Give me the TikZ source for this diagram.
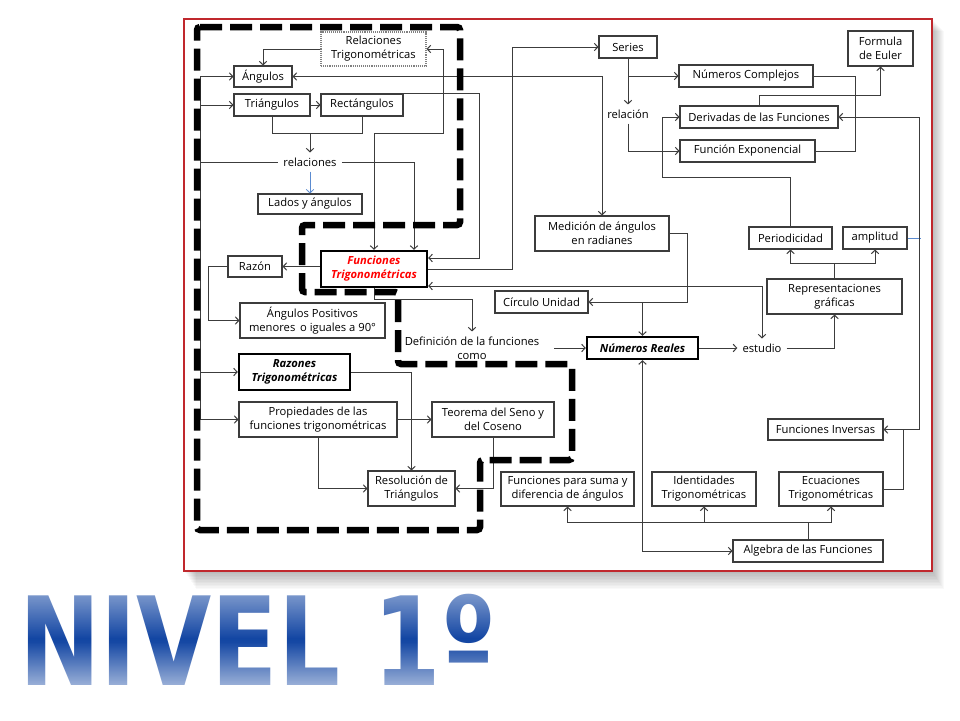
\documentclass[tikz,border=0pt]{standalone}
\usepackage{fontspec}
\setmainfont{Open Sans}
\newfontfamily\nivelfont{DejaVu Sans}
\usepackage{tikz}
\usepackage{xcolor}
\usetikzlibrary{arrows.meta,calc,fadings}
\definecolor{gris}{HTML}{3C3C3C}
\definecolor{marco}{HTML}{C0282D}
\definecolor{azul}{HTML}{5B8BD0}
\definecolor{nivelOsc}{HTML}{0A3FA0}

\begin{document}
\begin{tikzpicture}[x=1pt, y=-1pt,
    caja/.style={draw=gris, line width=1.1pt, fill=white, align=center, inner sep=1pt, font=\fontsize{11.2}{14}\selectfont},
    cajagruesa/.style={caja, draw=black, line width=2.4pt, font=\fontsize{11.2}{14}\selectfont\bfseries\itshape},
    texto/.style={inner sep=5pt, align=center, font=\fontsize{11.2}{14}\selectfont},
    flecha/.style={-{Straight Barb[length=3.5pt,width=7.5pt]}, gris, line width=1pt},
    dflecha/.style={{Straight Barb[length=3.5pt,width=7.5pt]}-{Straight Barb[length=3.5pt,width=7.5pt]}, gris, line width=1pt},
    linea/.style={gris, line width=1pt},
    borde/.style={line width=6.5pt, dash pattern=on 22pt off 8pt, rounded corners=3pt},
    nivel/.style={font=\nivelfont\bfseries\fontsize{123}{123}\selectfont, anchor=base west, inner sep=0pt, xscale=0.79, transform shape}]
    \useasboundingbox (0,0) rectangle (960,720);
    \fill[white] (0,0) rectangle (960,720);
    \foreach \i in {1,...,12}
        \fill[black, opacity=0.025] (184+\i,19+\i) rectangle (932+\i,571+1.5*\i);
    \draw[marco, line width=1.2pt, fill=white] (184,19) rectangle (932,571);

    \coordinate (izq) at (200,0);
    \node[caja, draw=gray, densely dotted, minimum width=105pt, minimum height=34pt] (relT) at (373.5,49) {Relaciones\\Trigonométricas};
    \node[caja, minimum width=58pt, minimum height=21pt] (ang) at (263,76.5) {Ángulos};
    \node[caja, minimum width=76pt, minimum height=22pt] (tri) at (272,105) {Triángulos};
    \node[caja, minimum width=82pt, minimum height=22pt] (rect) at (362,105) {Rectángulos};
    \node[texto] (rel) at (310,162) {relaciones};
    \node[caja, minimum width=104pt, minimum height=20pt] (lados) at (310,204) {Lados y ángulos};
    \node[cajagruesa, text=red, minimum width=106pt, minimum height=36pt] (ft) at (374,269) {Funciones\\Trigonométricas};
    \node[caja, minimum width=54pt, minimum height=21pt] (razon) at (255,266.5) {Razón};
    \node[caja, minimum width=145pt, minimum height=35pt] (angpos) at (312.5,320.5) {Ángulos Positivos\\menores\, o iguales a 90°};
    \node[texto] (defi) at (472,348) {Definición de la funciones\\como};
    \node[cajagruesa, minimum width=111pt, minimum height=36pt] (razT) at (294.5,372) {Razones\\Trigonométricas};
    \node[caja, minimum width=158pt, minimum height=35pt] (prop) at (318,419.5) {Propiedades de las\\funciones trigonométricas};
    \node[caja, minimum width=122pt, minimum height=35pt] (teo) at (493,419.5) {Teorema del Seno y\\del Coseno};
    \node[caja, minimum width=87pt, minimum height=35pt] (reso) at (411.5,488.5) {Resolución de\\Triángulos};
    \node[caja, minimum width=93pt, minimum height=22pt] (circ) at (541.5,302) {Círculo Unidad};
    \node[caja, minimum width=134pt, minimum height=35pt] (med) at (602,233.5) {Medición de ángulos\\en radianes};
    \node[cajagruesa, minimum width=111pt, minimum height=22pt] (nr) at (642.5,348) {Números Reales};
    \node[texto] (est) at (762,348) {estudio};
    \node[caja, minimum width=83pt, minimum height=22pt] (per) at (790.5,238) {Periodicidad};
    \node[caja, minimum width=64pt, minimum height=22pt] (amp) at (875,238) {amplitud};
    \node[caja, minimum width=135pt, minimum height=35pt] (rep) at (834.5,296.5) {Representaciones\\gráficas};
    \node[caja, minimum width=58pt, minimum height=22pt] (series) at (628,47) {Series};
    \node[caja, minimum width=65pt, minimum height=35pt] (euler) at (880.5,48.5) {Formula\\de Euler};
    \node[caja, minimum width=134pt, minimum height=22pt] (comp) at (746,76) {Números Complejos};
    \node[texto] (relac) at (628,114) {relación};
    \node[caja, minimum width=158pt, minimum height=22pt] (deriv) at (759,117) {Derivadas de las Funciones};
    \node[caja, minimum width=135pt, minimum height=22pt] (expo) at (747.5,151) {Función Exponencial};
    \node[caja, minimum width=133pt, minimum height=34pt] (suma) at (567.5,489) {Funciones para suma y\\diferencia de ángulos};
    \node[caja, minimum width=104pt, minimum height=34pt] (iden) at (704,489) {Identidades\\Trigonométricas};
    \node[caja, minimum width=104pt, minimum height=34pt] (ecu) at (831,489) {Ecuaciones\\Trigonométricas};
    \node[caja, minimum width=115pt, minimum height=21pt] (inv) at (825.5,429.5) {Funciones Inversas};
    \node[caja, minimum width=150pt, minimum height=22pt] (alg) at (808,551) {Algebra de las Funciones};

    \draw[linea] (izq |- ang.west) -- (izq |- prop.west);
    \draw[flecha] (izq |- ang.west) -- (ang.west);
    \draw[flecha] (izq |- tri.west) -- (tri.west);
    \draw[linea] (izq |- rel.west) -- (rel.west);
    \draw[flecha] (izq |- razT.west) -- (razT.west);
    \draw[flecha] (izq |- prop.west) -- (prop.west);
    \draw[flecha] (relT.west) -| (ang.north);
    \draw[dflecha] (ft.north) |- (443,133) |- (relT.east);
    \draw[flecha] (tri) -- (rect);
    \draw[linea] (tri.south) |- (rect.south |- 0,133) -- (rect.south);
    \coordinate (union) at (310,133);
    \draw[flecha] (union) -- (rel.north);
    \draw[flecha, azul, line width=0.8pt] (rel.south) -- (lados.north);
    \draw[flecha] (rel.east) -| ([xshift=40pt]ft.north);
    \draw[flecha] (rect.north east) -- ++(76,0) |- ($(ft.east)+(0,-11)$);
    \draw[flecha] (ft.east) -| (512,47) -- (series.west);
    \draw[dflecha] ($(ft.east)+(0,17)$) -| (est.north);
    \draw[dflecha] (ang.east) -| (med.north);
    \draw[flecha] (ft.south) -- ++(0,11) -| (defi.north);
    \draw[flecha] (ft.west |- razon.east) -- (razon.east);
    \draw[flecha] (razon.west) -- ++(-19,0) |- (angpos.west);
    \draw[flecha] ([xshift=10pt]defi.east) -- (nr.west);
    \draw[flecha] (med.east) -- ++(18,0) |- (circ.east);
    \draw[flecha] (nr.north |- circ.east) -- (nr.north);
    \draw[flecha] (nr.east) -- (est.west);
    \draw[flecha] (est.east) -| (rep.south);
    \draw[linea] (rep.north) -- ++(0,-15) coordinate (rp);
    \draw[flecha] (rp) -| (per.south);
    \draw[flecha] (rp) -| (amp.south);
    \draw[azul, line width=0.6pt] (amp.east) -- ++(13,0);
    \draw[flecha] (per.north) |- (662,177) |- (deriv.west);
    \draw[flecha] (deriv.north) |- (880.5,95) -- (euler.south);
    \draw[flecha] (series.south) -- (relac.north);
    \draw[flecha] (series.south |- comp.west) -- (comp.west);
    \draw[flecha] (relac.south) |- (expo.west);
    \draw[linea] (comp.east) -- ++(42,0) |- (expo.east);
    \draw[dflecha] (deriv.east) -- ++(81,0) |- (inv.east);
    \draw[linea] (ecu.east) -- ++(20,0) |- (inv.east);
    \draw[linea] (alg.north) -- ++(0,-17) coordinate (al);
    \draw[flecha] (al) -| (suma.south);
    \draw[flecha] (al) -| (iden.south);
    \draw[flecha] (al) -| (ecu.south);
    \draw[dflecha] (nr.south) |- (alg.west);
    \draw[flecha] (razT.east) -| (reso.north);
    \draw[flecha] (prop.east) -- (teo.west);
    \draw[flecha] (prop.south) |- (reso.west);
    \draw[flecha] (teo.south) |- (reso.east);

    \draw[borde] (197,27) -- (460,27) -- (460,225) -- (302,225) -- (302,292) -- (398,292) -- (398,364) -- (572,364) -- (572,460) -- (480,460) -- (480,530) -- (197,530) -- cycle;

    \node[nivel, text=nivelOsc] (nivelTit) at (19,685) {NIVEL 1º};
    \fill[white, path fading=south, fill opacity=0.5] (0,590) rectangle (960,642);
    \fill[white, path fading=north, fill opacity=0.68] (0,638) rectangle (960,692);
\end{tikzpicture}
\end{document}
